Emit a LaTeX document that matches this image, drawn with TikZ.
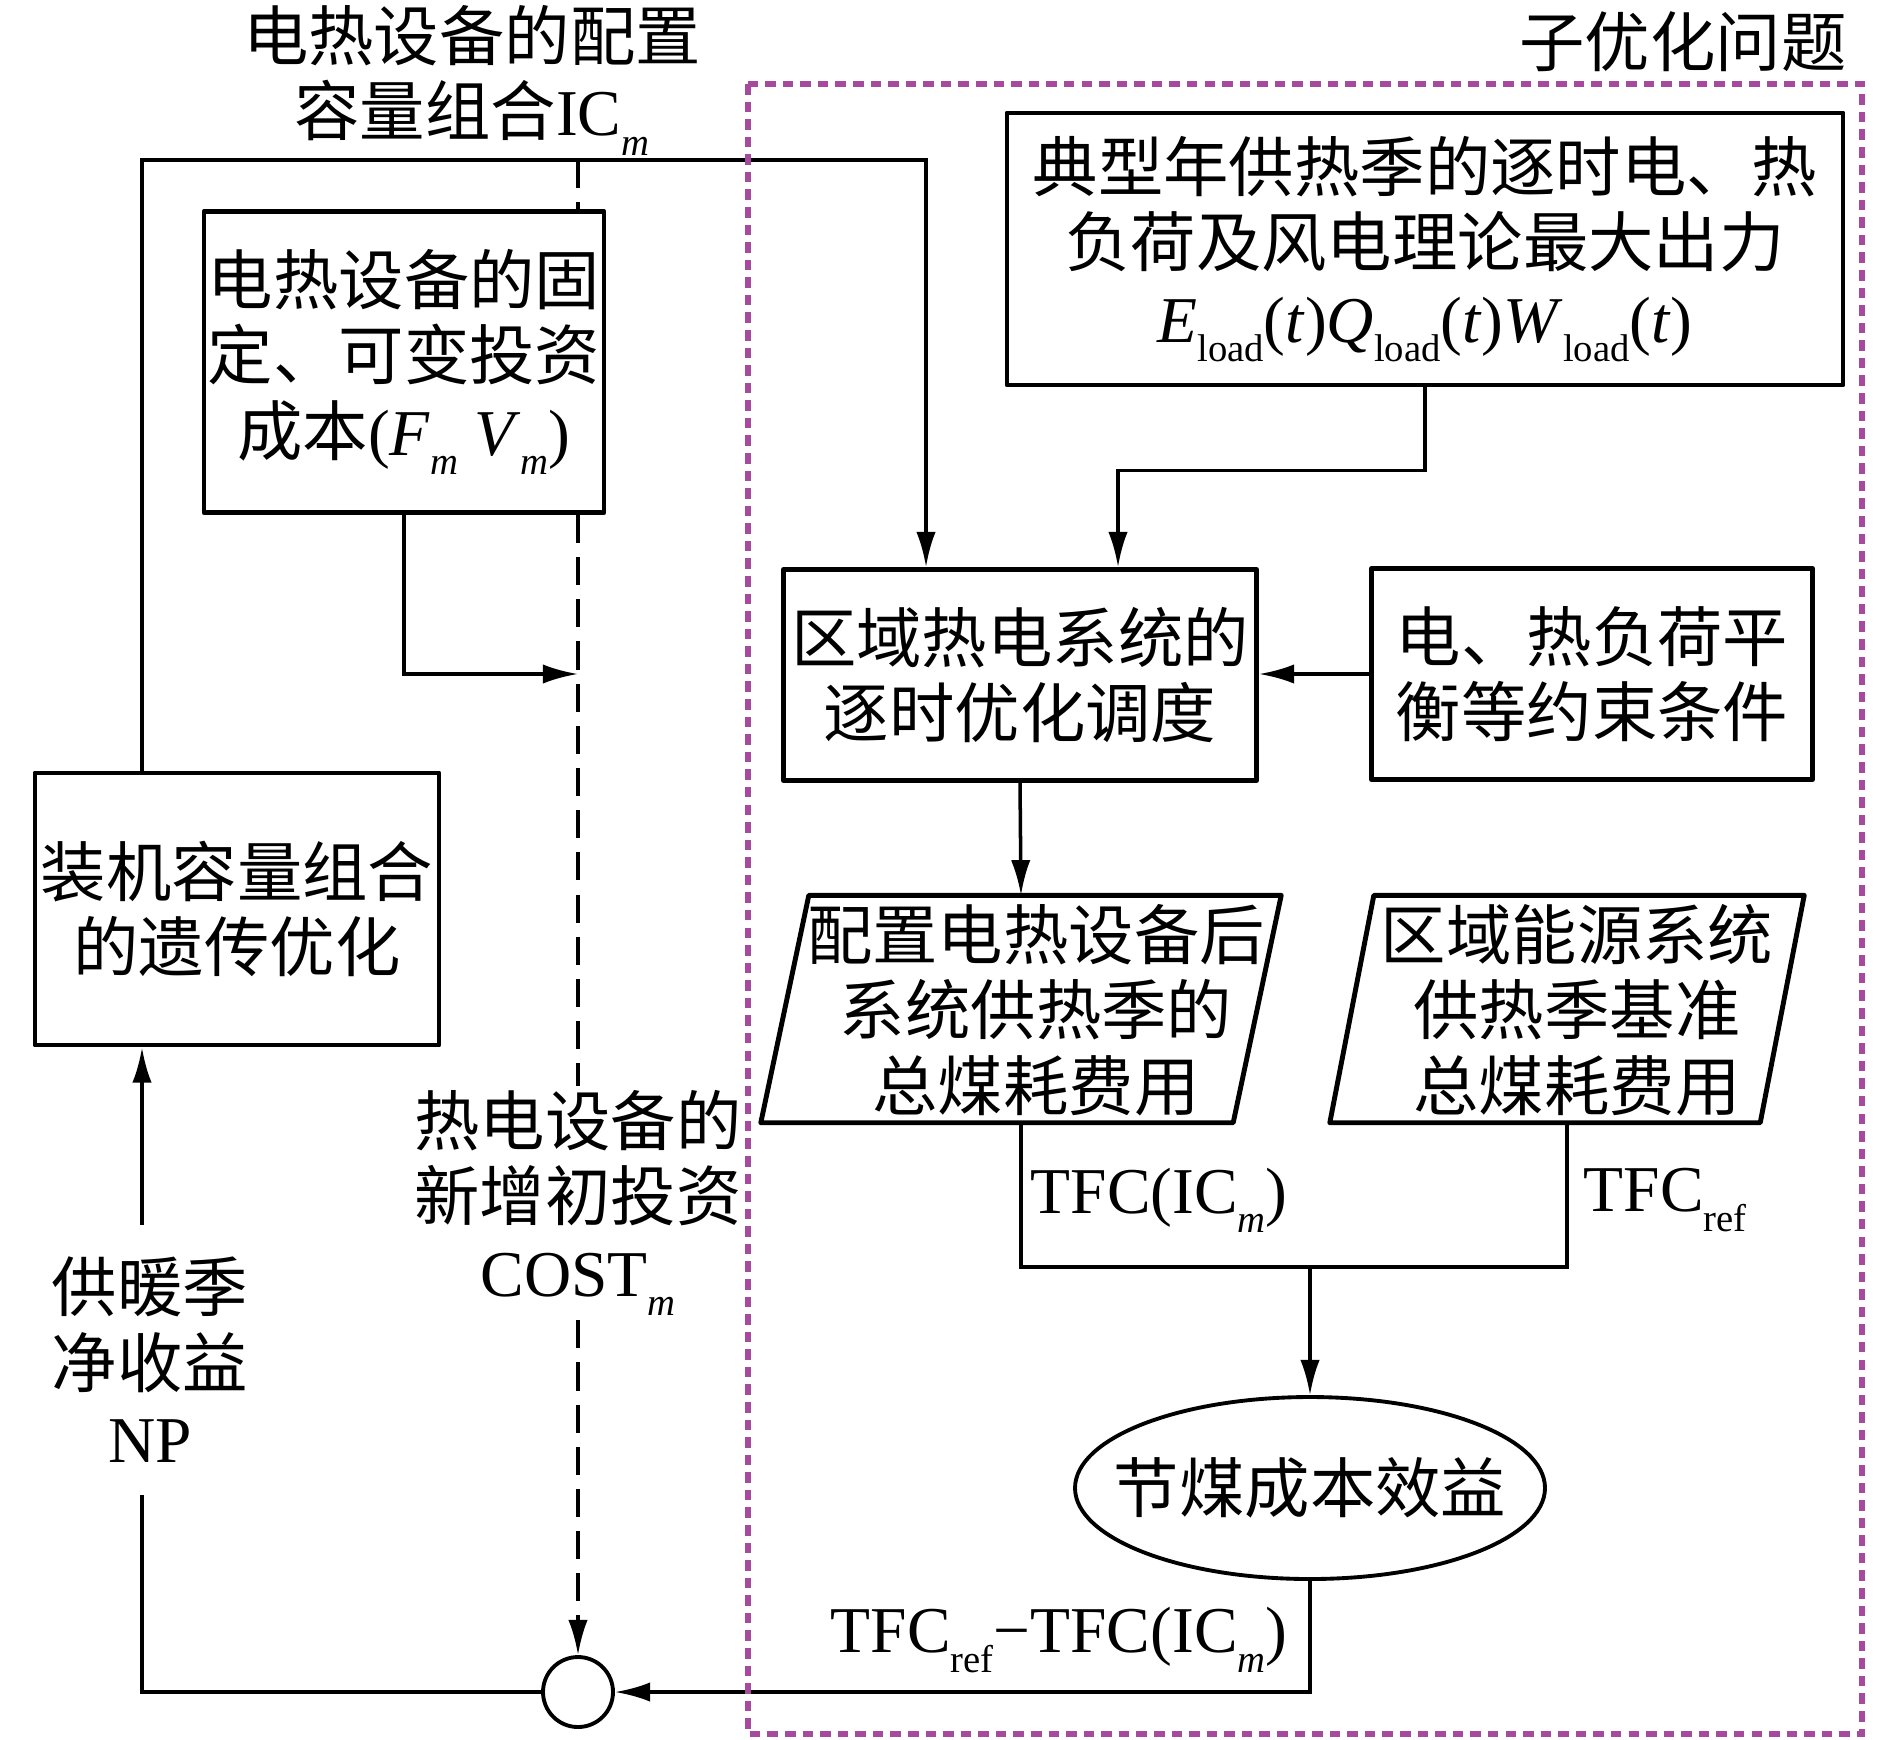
\documentclass[tikz,border=0pt]{standalone}
\usepackage{fontspec}
\setmainfont{Liberation Serif}
\newfontfamily\cjk{Noto Sans CJK SC}
\usetikzlibrary{arrows.meta,shapes.geometric}
\definecolor{subframe}{RGB}{166,74,158}
\newcommand\sbs[1]{\raisebox{-5.5pt}{\fontsize{11pt}{11pt}\selectfont #1}}

\begin{document}
\begin{tikzpicture}[x=0.1mm,y=-0.1mm,
        font=\cjk\fontsize{18.6pt}{21.5pt}\selectfont,
        box/.style={draw,line width=1.4pt,line join=round,fill=white,align=center,inner sep=0pt},
        parbody/.style={rectangle,minimum height=22.6mm,inner sep=0pt},
        parline/.style={draw,line width=1.4pt,line join=round},
        lbl/.style={align=center,inner sep=0pt},
        link/.style={line width=1pt},
        arr/.style={link,-{Latex[length=10pt,width=5.5pt]}},
        dashlink/.style={link,dash pattern=on 8pt off 4pt}]
    \useasboundingbox (0,0) rectangle (1890,1739);

    \node[lbl] (iclabel) at (472,80) {电热设备的配置\\容量组合\textrm{IC\sbs{\textit{m}}}};
    \node[lbl] (sublabel) at (1683,42) {子优化问题};

    \node[box,minimum width=40mm,minimum height=30.1mm] (fixcost) at (404,362)
        {电热设备的固\\定、可变投资\\成本\textrm{(\textit{F}\sbs{\textit{m}} \textit{V}\sbs{\textit{m}})}};
    \node[box,minimum width=40.4mm,minimum height=27.2mm] (genetic) at (237,909)
        {装机容量组合\\的遗传优化};
    \node[lbl,minimum height=26.9mm] (nplabel) at (150,1360) {供暖季\\净收益\\\textrm{NP}};
    \node[lbl,minimum height=23.3mm] (costlabel) at (578,1203)
        {热电设备的\\新增初投资\\\textrm{COST\sbs{\textit{m}}}};
    \node[circle,draw,line width=1.1pt,minimum size=7mm,inner sep=0pt] (sum) at (578,1692) {};

    \node[box,minimum width=83.6mm,minimum height=27.2mm] (loads) at (1425,249)
        {典型年供热季的逐时电、热\\负荷及风电理论最大出力\\
        \textrm{\textit{E}\sbs{load}(\textit{t})\textit{Q}\sbs{load}(\textit{t})\textit{W}\sbs{load}(\textit{t})}};
    \node[box,minimum width=47.3mm,minimum height=21.1mm] (dispatch) at (1020,675)
        {区域热电系统的\\逐时优化调度};
    \node[box,minimum width=44.1mm,minimum height=21.1mm] (constr) at (1592,674)
        {电、热负荷平\\衡等约束条件};
    \node[parbody,minimum width=47.1mm] (tfcnew) at (1021,1009) {};
    \node[lbl] (tfcnewtext) at (1036,1010) {配置电热设备后\\系统供热季的\\总煤耗费用};
    \node[parbody,minimum width=42.9mm] (tfcbase) at (1567,1009) {};
    \node[lbl] (tfcbasetext) at (1577,1010) {区域能源系统\\供热季基准\\总煤耗费用};
    \foreach \p/\s in {tfcnew/2.4mm,tfcbase/2.2mm} {
        \draw[parline] ([xshift=\s]\p.north west) -- ([xshift=\s]\p.north east)
            -- ([xshift=-\s]\p.south east) -- ([xshift=-\s]\p.south west) -- cycle;
    };
    \node[ellipse,draw,line width=1.1pt,minimum width=47mm,minimum height=18.2mm,inner sep=0pt]
        (benefit) at (1310,1488) {};
    \node[lbl] (benefittext) at (benefit) {节煤成本效益};

    \node[lbl,anchor=west] (tfcmlabel) at (1030,1200) {\textrm{TFC(IC\sbs{\textit{m}})}};
    \node[lbl,anchor=west] (tfcreflabel) at (1583,1200) {\textrm{TFC\sbs{ref}}};
    \node[lbl,anchor=east] (difflabel) at (1288,1640) {\textrm{TFC\sbs{ref}−TFC(IC\sbs{\textit{m}})}};

    \coordinate (lx) at (142,160);
    \coordinate (icm) at (578,160);
    \coordinate (fvin) at (578,674);
    \coordinate (merge) at (1310,1267);

    \draw[arr] (genetic.north -| lx) |- (icm) -| ([xshift=-9.4mm]dispatch.north);
    \draw[dashlink] (icm) -- (icm |- fixcost.north);
    \draw[dashlink] (icm |- fixcost.south) -- (icm |- costlabel.north);
    \draw[dashlink,arr] (icm |- costlabel.south) -- (sum.north);
    \draw[arr] (fixcost.south) |- (fvin);
    \draw[arr] (nplabel.north -| lx) -- (genetic.south -| lx);
    \draw[link] (nplabel.south -| lx) |- (sum.west);

    \draw[arr] (loads.south) -- ++(0,83) -| ([xshift=9.8mm]dispatch.north);
    \draw[arr] (constr.west) -- (constr.west -| dispatch.east);
    \draw[arr] (dispatch.south) -- (tfcnew.north);
    \foreach \p in {tfcnew,tfcbase} {
        \draw[link] (\p.south) |- (merge);
    };
    \draw[arr] (merge) -- (benefit.north);
    \draw[arr] (benefit.south) |- (sum.east);

    \draw[subframe,line width=1.5pt,dash pattern=on 3pt off 2pt] (748,84) rectangle (1862,1734);
\end{tikzpicture}
\end{document}
